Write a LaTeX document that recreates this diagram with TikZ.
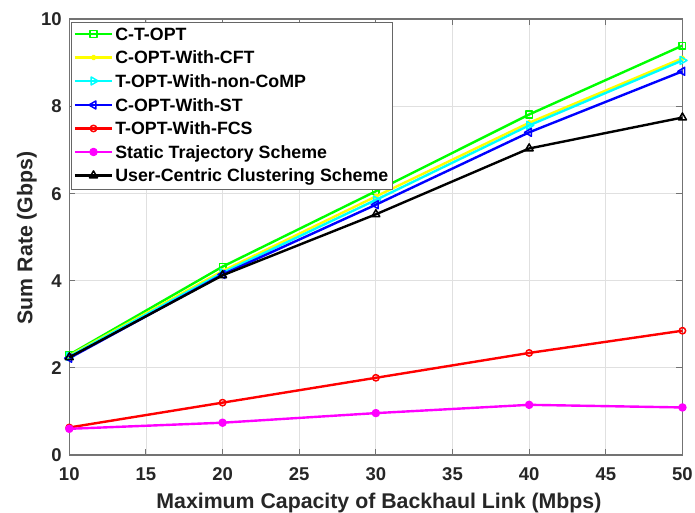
\documentclass[tikz,border=0pt]{standalone}
\usepackage{fontspec}
\setmainfont{Liberation Sans}
\usetikzlibrary{plotmarks}
\definecolor{mgreen}{rgb}{0,1,0}
\definecolor{myellow}{rgb}{1,1,0}
\definecolor{mcyan}{rgb}{0,1,1}
\definecolor{mblue}{rgb}{0,0,1}
\definecolor{mred}{rgb}{1,0,0}
\definecolor{mmagenta}{rgb}{1,0,1}
\definecolor{axisgray}{gray}{0.45}
\definecolor{gridgray}{gray}{0.88}
\begin{document}
\begin{tikzpicture}[x=15.33pt,y=43.6pt,font=\bfseries,
  series/.style={line width=2.4pt,line join=round},
  sgreen/.style={series,draw=mgreen,mark=square,mark size=3.3pt,mark options={solid,line width=1.5pt,draw=mgreen}},
  syellow/.style={series,draw=myellow,mark=*,mark size=1.8pt,mark options={solid,draw=myellow,fill=myellow}},
  scyan/.style={series,draw=mcyan,mark=triangle,mark size=4.6pt,mark options={solid,line width=1.5pt,draw=mcyan,rotate=-90}},
  sblue/.style={series,draw=mblue,mark=triangle,mark size=4.6pt,mark options={solid,line width=1.5pt,draw=mblue,rotate=90}},
  sred/.style={series,draw=mred,mark=o,mark size=3.2pt,mark options={solid,line width=1.5pt,draw=mred}},
  smagenta/.style={series,draw=mmagenta,mark=*,mark size=3pt,mark options={solid,draw=mmagenta,fill=mmagenta}},
  sblack/.style={series,draw=black,mark=triangle,mark size=4.6pt,mark options={solid,line width=1.5pt,draw=black}},
  ticklab/.style={inner sep=0pt,font=\fontsize{18.5}{20}\selectfont\bfseries,text=black!85},
  axtitle/.style={inner sep=0pt,font=\fontsize{21.3}{24}\selectfont\bfseries,text=black!85},
  legtext/.style={inner sep=0pt,anchor=base west,font=\fontsize{17.8}{20}\selectfont\bfseries}]
\useasboundingbox[fill=white] (5.48,-1.330) rectangle (50.82,10.436);
% grid
\foreach \gx in {15,20,...,45} \draw[gridgray,line width=0.8pt] (\gx,0) -- (\gx,10);
\foreach \gy in {2,4,6,8} \draw[gridgray,line width=0.8pt] (10,\gy) -- (50,\gy);
% box and ticks
\draw[axisgray,line width=1.3pt] (10,0) rectangle (50,10);
\foreach \gx in {10,15,...,50} {
  \draw[axisgray,line width=1.1pt] (\gx,0) -- ++(0,0.14);
  \draw[axisgray,line width=1.1pt] (\gx,10) -- ++(0,-0.14);
  \node[ticklab,anchor=base] (xt\gx) at (\gx,-0.589) {\gx};
}
\foreach \gy in {0,2,...,10} {
  \draw[axisgray,line width=1.1pt] (10,\gy) -- ++(0.4,0);
  \draw[axisgray,line width=1.1pt] (50,\gy) -- ++(-0.4,0);
  \node[ticklab,anchor=base east] (yt\gy) at (9.52,\gy-0.154) {\gy};
}
% data
\draw[sgreen] plot coordinates {(10,2.30) (20,4.32) (30,6.05) (40,7.81) (50,9.39)};
\draw[syellow] plot coordinates {(10,2.28) (20,4.22) (30,5.93) (40,7.62) (50,9.10)};
\draw[scyan] plot coordinates {(10,2.26) (20,4.18) (30,5.85) (40,7.56) (50,9.05)};
\draw[sblue] plot coordinates {(10,2.22) (20,4.14) (30,5.74) (40,7.40) (50,8.80)};
\draw[sred] plot coordinates {(10,0.63) (20,1.20) (30,1.77) (40,2.34) (50,2.85)};
\draw[smagenta] plot coordinates {(10,0.60) (20,0.74) (30,0.96) (40,1.15) (50,1.09)};
\draw[sblack] plot coordinates {(10,2.24) (20,4.12) (30,5.52) (40,7.03) (50,7.74)};
% axis titles
\node[axtitle,anchor=base] (xtitle) at (30.2,-1.222) {Maximum Capacity of Backhaul Link (Mbps)};
\node[axtitle,anchor=base,rotate=90] (ytitle) at (7.6,4.98) {Sum Rate (Gbps)};
% legend
\node[draw=black!60,line width=0.9pt,fill=white,anchor=north west,minimum width=321pt,minimum height=167pt,inner sep=0pt] (legend) at (10.11,9.93) {};
\foreach \st/\yy/\lab [count=\i] in {sgreen/9.656/C-T-OPT,syellow/9.117/C-OPT-With-CFT,scyan/8.578/T-OPT-With-non-CoMP,sblue/8.028/C-OPT-With-ST,sred/7.489/T-OPT-With-FCS,smagenta/6.950/Static Trajectory Scheme,sblack/6.411/User-Centric Clustering Scheme} {
  \draw[\st,mark indices={2}] plot coordinates {(10.37,\yy) (11.58,\yy) (12.79,\yy)};
  \node[legtext] (leg\i) at (12.99,\yy-0.141) {\lab};
}
\end{tikzpicture}
\end{document}
